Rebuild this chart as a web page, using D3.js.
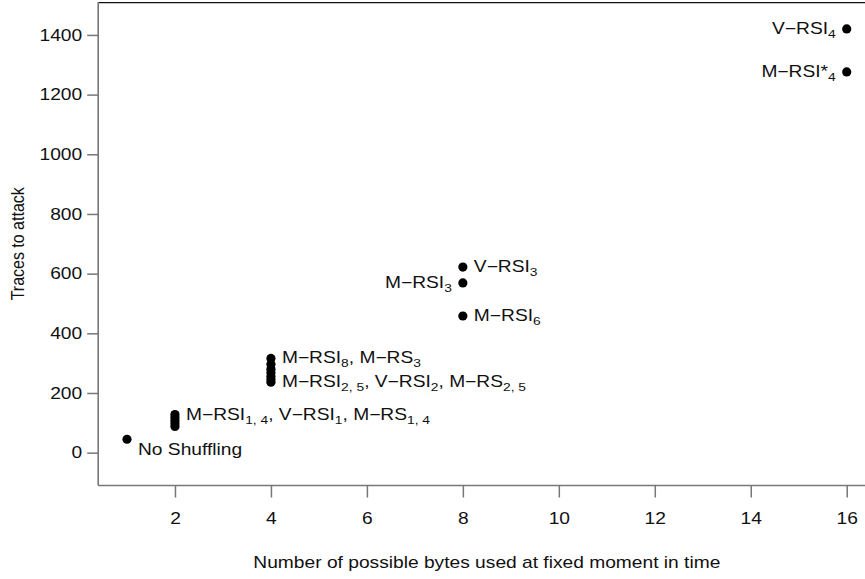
<!DOCTYPE html>
<html>
<head>
<meta charset="utf-8">
<script src="https://cdn.jsdelivr.net/npm/d3@7"></script>
<style>
  body { margin: 0; background: #fff; }
  text { font-family: "Liberation Sans", Arial, Helvetica, sans-serif; fill: #111; }
</style>
</head>
<body>
<svg id="chart" width="865" height="579"></svg>
<script>
// Number of possible bytes used at a fixed moment, and traces needed for the attack
const pointBytes  = [1, 2, 2, 2, 2, 2, 4, 4, 4, 4, 4, 4, 4, 8, 8, 8, 16, 16];
const pointTraces = [45, 88, 98, 108, 118, 128, 236, 245, 255, 268, 280, 296, 316, 458, 569, 622, 1276, 1420];

// Scheme labels; "_{...}" marks a subscript
const labelText = [
  "No Shuffling",
  "M\u2212RSI_{1, 4}, V\u2212RSI_{1}, M\u2212RS_{1, 4}",
  "M\u2212RSI_{2, 5}, V\u2212RSI_{2}, M\u2212RS_{2, 5}",
  "M\u2212RSI_{8}, M\u2212RS_{3}",
  "M\u2212RSI_{6}",
  "M\u2212RSI_{3}",
  "V\u2212RSI_{3}",
  "M\u2212RSI*_{4}",
  "V\u2212RSI_{4}"
];
const labelBytes  = [1, 2, 4, 4, 8, 8, 8, 16, 16];
const labelTraces = [45, 125, 236, 316, 458, 569, 622, 1276, 1420];

const xTicks = [2, 4, 6, 8, 10, 12, 14, 16];
const yTicks = [0, 200, 400, 600, 800, 1000, 1200, 1400];

// which side of its point each label sits on
const labelSide = ["belowright", "right", "right", "right", "right", "left", "right", "left", "left"];

const svg = d3.select("#chart");
const SX = 1.2;           // horizontal glyph stretch
const FS = 16;

const x = d3.scaleLinear().domain([0.4, 16.6]).range([98.2, 875.5]);
const y = d3.scaleLinear().domain([-110, 1510]).range([485.5, 2.1]);

// move x/y of a text into a transform so glyphs can be widened
function stretch(sel) {
  sel.each(function () {
    const t = d3.select(this);
    const tx = +t.attr("x") || 0, ty = +t.attr("y") || 0;
    t.attr("x", 0).attr("y", 0)
     .attr("transform", `translate(${tx},${ty}) scale(${SX},1)`);
  });
}

// plot frame
const x0 = x.range()[0], x1 = x.range()[1], y0 = y.range()[0], y1 = y.range()[1];
svg.append("line").attr("x1", x0).attr("x2", x1).attr("y1", y1 + 0.5).attr("y2", y1 + 0.5)
   .attr("stroke", "#111").attr("stroke-width", 1.3);
svg.append("line").attr("x1", x0).attr("x2", x0).attr("y1", y1).attr("y2", y0)
   .attr("stroke", "#777").attr("stroke-width", 1.6);
svg.append("line").attr("x1", x0).attr("x2", x1).attr("y1", y0).attr("y2", y0)
   .attr("stroke", "#777").attr("stroke-width", 1.6);

// axes
const gy = svg.append("g").attr("transform", `translate(${x0},0)`)
  .call(d3.axisLeft(y).tickValues(yTicks).tickSize(11).tickPadding(5).tickFormat(d3.format("d")));
const gx = svg.append("g").attr("transform", `translate(0,${y0})`)
  .call(d3.axisBottom(x).tickValues(xTicks).tickSize(12).tickPadding(15).tickFormat(d3.format("d")));
[gy, gx].forEach(g => {
  g.select(".domain").remove();
  g.selectAll(".tick line").attr("stroke", "#777").attr("stroke-width", 1.5);
  g.selectAll(".tick text").attr("font-size", FS).attr("font-family", null).attr("fill", "#111");
  stretch(g.selectAll(".tick text"));
});

// axis titles
svg.append("text").attr("font-size", FS).attr("text-anchor", "middle")
   .attr("transform", `translate(${(x0 + x1) / 2},568) scale(${SX},1)`)
   .text("Number of possible bytes used at fixed moment in time");
svg.append("text").attr("font-size", FS).attr("text-anchor", "middle")
   .attr("transform", `translate(24,${(y0 + y1) / 2}) rotate(-90) scale(1,${SX})`)
   .text("Traces to attack");

// points
svg.append("g").selectAll("circle")
  .data(pointBytes.map((b, i) => ({ b, t: pointTraces[i] })))
  .join("circle")
  .attr("cx", d => x(d.b)).attr("cy", d => y(d.t)).attr("r", 4.6)
  .attr("fill", "#000");

// labels with subscripts: each tspan carries the shift needed from the previous one
function addRich(textSel, str) {
  const parts = str.split(/(_\{[^}]*\})/).filter(s => s.length);
  let level = 0;
  parts.forEach(p => {
    const sub = p.startsWith("_{");
    const target = sub ? 4 : 0;
    const ts = textSel.append("tspan").attr("dy", target - level)
      .text(sub ? p.slice(2, -1) : p);
    if (sub) ts.attr("font-size", FS * 0.72);
    level = target;
  });
}

const gl = svg.append("g").attr("font-size", FS);
labelText.forEach((s, i) => {
  const side = labelSide[i];
  const px = x(labelBytes[i]), py = y(labelTraces[i]);
  let tx, ty, anchor;
  if (side === "right") { tx = px + 11; ty = py + 5; anchor = "start"; }
  else if (side === "left") { tx = px - 11; ty = py + 5; anchor = "end"; }
  else { tx = px + 11; ty = py + 16; anchor = "start"; }
  const t = gl.append("text").attr("text-anchor", anchor)
    .attr("transform", `translate(${tx},${ty}) scale(${SX},1)`);
  addRich(t, s);
});
</script>
</body>
</html>
